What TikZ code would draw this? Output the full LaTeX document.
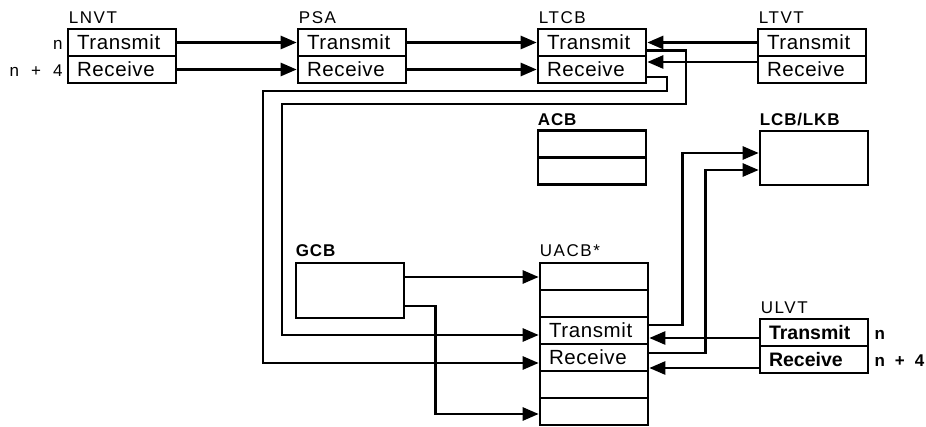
\documentclass[tikz,border=0pt]{standalone}
\usepackage{fontspec}
\setmainfont{Liberation Sans}
\newfontfamily\rowfont[LetterSpace=3]{Liberation Sans}
\newfontfamily\lblfont[LetterSpace=9]{Liberation Sans}
\newfontfamily\blblfont[LetterSpace=5]{Liberation Sans}
\usetikzlibrary{arrows.meta}
\begin{document}
\begin{tikzpicture}[x=1pt,y=-1pt,
  cell/.style={draw, line width=2.6pt, minimum width=108pt, minimum height=27pt,
    inner sep=0pt, text width=90pt, align=left, font=\rowfont\fontsize{20.5}{22}\selectfont},
  bcell/.style={cell, font=\fontsize{19.5}{22}\selectfont\bfseries},
  bigbox/.style={draw, line width=2.6pt, minimum width=108pt, minimum height=55pt, inner sep=0pt},
  lbl/.style={anchor=base west, inner sep=0pt, font=\lblfont\fontsize{17}{19}\selectfont},
  blbl/.style={anchor=base west, inner sep=0pt, font=\blblfont\fontsize{17}{19}\selectfont\bfseries},
  nlbl/.style={inner sep=0pt, font=\fontsize{17}{19}\selectfont},
  conn/.style={line width=2.6pt, -{Triangle[length=16pt,width=13pt]}}]
\useasboundingbox (0,0) rectangle (926,427);

% LNVT
\node[cell] (lnvtT) at (122,42.5) {Transmit};
\node[cell] (lnvtR) at (122,69.5) {Receive};
\node[lbl] (lnvtL) at ([xshift=2pt,yshift=4pt]lnvtT.north west) {LNVT};
\node[nlbl, anchor=base east] (n1) at ([xshift=-4pt]lnvtT.base west) {n};
\node[nlbl, anchor=base east] (n2) at ([xshift=-4pt]lnvtR.base west) {n\hspace{12pt}+\hspace{12pt}4};

% PSA
\node[cell] (psaT) at (352,42.5) {Transmit};
\node[cell] (psaR) at (352,69.5) {Receive};
\node[lbl] (psaL) at ([xshift=2pt,yshift=4pt]psaT.north west) {PSA};

% LTCB
\node[cell] (ltcbT) at (592,42.5) {Transmit};
\node[cell] (ltcbR) at (592,69.5) {Receive};
\node[lbl] (ltcbL) at ([xshift=2pt,yshift=4pt]ltcbT.north west) {LTCB};

% LTVT
\node[cell] (ltvtT) at (812,42.5) {Transmit};
\node[cell] (ltvtR) at (812,69.5) {Receive};
\node[lbl] (ltvtL) at ([xshift=2pt,yshift=4pt]ltvtT.north west) {LTVT};

% ACB
\node[cell] (acb1) at (592,144) {};
\node[cell] (acb2) at (592,171) {};
\node[blbl] (acbL) at ([xshift=1pt,yshift=4pt]acb1.north west) {ACB};

% LCB/LKB
\node[bigbox, minimum height=54pt] (lcb) at (814,158) {};
\node[blbl] (lcbL) at ([xshift=1pt,yshift=4pt]lcb.north west) {LCB/LKB};

% GCB
\node[bigbox] (gcb) at (350,290.5) {};
\node[blbl] (gcbL) at ([xshift=1pt,yshift=5pt]gcb.north west) {GCB};

% UACB*
\node[cell] (uacb1) at (594,276.5) {};
\node[cell] (uacb2) at (594,303.5) {};
\node[cell] (uacbT) at (594,330.5) {Transmit};
\node[cell] (uacbR) at (594,357.5) {Receive};
\node[cell] (uacb5) at (594,384.5) {};
\node[cell] (uacb6) at (594,411.5) {};
\node[lbl] (uacbL) at ([xshift=1pt,yshift=5pt]uacb1.north west) {UACB*};

% ULVT
\node[bcell] (ulvtT) at (814,332.5) {Transmit};
\node[bcell] (ulvtR) at (814,359.5) {Receive};
\node[lbl] (ulvtL) at ([xshift=2pt,yshift=4pt]ulvtT.north west) {ULVT};
\node[nlbl, font=\fontsize{17}{19}\selectfont\bfseries, anchor=base west] (n3) at ([xshift=5pt]ulvtT.base east) {n};
\node[nlbl, font=\fontsize{17}{19}\selectfont\bfseries, anchor=base west] (n4) at ([xshift=5pt]ulvtR.base east) {n\hspace{10pt}+\hspace{10pt}4};

% connectors top
\draw[conn] (lnvtT.east) -- (psaT.west);
\draw[conn] (lnvtR.east) -- (psaR.west);
\draw[conn] (psaT.east) -- (ltcbT.west);
\draw[conn] (psaR.east) -- (ltcbR.west);
\draw[conn] (ltvtT.west) -- (ltcbT.east);
\draw[conn] ([yshift=7.5pt]ltvtR.west) -- ([yshift=7.5pt]ltcbR.east);

% loops LTCB -> UACB
\draw[conn] ([yshift=-8pt]ltcbT.east) -| (686,104) -| (282,335) -- ([yshift=-4.5pt]uacbT.west);
\draw[conn] ([yshift=-7.5pt]ltcbR.east) -| (667,91) -| (263,363) -- ([yshift=-5.5pt]uacbR.west);

% GCB -> UACB
\draw[conn] ([yshift=13.5pt]gcb.east) -- ([yshift=13.5pt]gcb.east -| uacb1.west);
\draw[conn] ([yshift=-15.5pt]gcb.east) -| ([xshift=-103pt,yshift=-2.5pt]uacb6.west) -- ([yshift=-2.5pt]uacb6.west);

% UACB -> LCB/LKB
\draw[conn] ([yshift=5.5pt]uacbT.east) -| ([xshift=-76pt,yshift=5pt]lcb.west) -- ([yshift=5pt]lcb.west);
\draw[conn] ([yshift=4.5pt]uacbR.east) -| ([xshift=-53pt,yshift=-12pt]lcb.west) -- ([yshift=-12pt]lcb.west);

% ULVT -> UACB
\draw[conn] ([yshift=-5.5pt]ulvtT.west) -- ([yshift=-5.5pt]ulvtT.west -| uacbT.east);
\draw[conn] ([yshift=-8.5pt]ulvtR.west) -- ([yshift=-8.5pt]ulvtR.west -| uacbR.east);
\end{tikzpicture}
\end{document}
